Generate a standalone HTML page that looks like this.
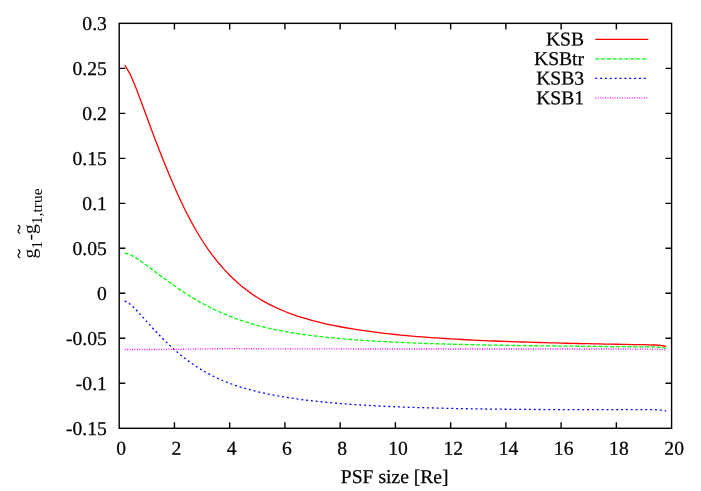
<!DOCTYPE html>
<html><head><meta charset="utf-8"><title>plot</title>
<style>html,body{margin:0;padding:0;background:#fff;}body{width:701px;height:491px;overflow:hidden;position:relative;font-family:"Liberation Serif",serif;}</style>
</head><body>
<svg width="701" height="491" viewBox="0 0 701 491" style="position:absolute;left:0;top:0;will-change:transform;opacity:0.999">
<rect x="0" y="0" width="701" height="491" fill="#fff"/>
<g fill="none" stroke-width="1.3" stroke-linejoin="round">
<path d="M124.72,64.96 L130.25,74.32 L135.77,87.38 L141.30,101.95 L146.82,116.97 L152.34,131.90 L157.87,146.47 L163.39,160.56 L168.92,174.09 L174.44,187.04 L179.96,199.30 L185.49,210.77 L191.01,221.41 L196.54,231.23 L202.06,240.26 L207.58,248.52 L213.11,256.09 L218.63,263.03 L224.16,269.39 L229.68,275.20 L235.20,280.52 L240.73,285.39 L246.25,289.83 L251.78,293.87 L257.30,297.55 L262.82,300.89 L268.35,303.92 L273.87,306.67 L279.40,309.19 L284.92,311.49 L290.44,313.60 L295.97,315.54 L301.49,317.33 L307.02,318.99 L312.54,320.53 L318.06,321.96 L323.59,323.28 L329.11,324.52 L334.64,325.67 L340.16,326.75 L345.68,327.76 L351.21,328.70 L356.73,329.59 L362.26,330.42 L367.78,331.21 L373.30,331.94 L378.83,332.64 L384.35,333.29 L389.88,333.91 L395.40,334.50 L400.92,335.05 L406.45,335.57 L411.97,336.06 L417.50,336.53 L423.02,336.97 L428.54,337.38 L434.07,337.78 L439.59,338.16 L445.12,338.51 L450.64,338.85 L456.16,339.17 L461.69,339.48 L467.21,339.77 L472.74,340.04 L478.26,340.30 L483.78,340.55 L489.31,340.79 L494.83,341.02 L500.36,341.24 L505.88,341.45 L511.40,341.64 L516.93,341.83 L522.45,342.02 L527.98,342.19 L533.50,342.36 L539.02,342.52 L544.55,342.67 L550.07,342.82 L555.60,342.96 L561.12,343.10 L566.64,343.23 L572.17,343.36 L577.69,343.48 L583.22,343.60 L588.74,343.72 L594.26,343.83 L599.79,343.94 L605.31,344.04 L610.84,344.14 L616.36,344.24 L621.88,344.34 L627.41,344.43 L632.93,344.53 L638.46,344.62 L643.98,344.70 L649.50,344.79 L655.03,345.00 L660.55,345.41 L666.08,346.50" stroke="#ff0000"/>
<path d="M124.72,252.99 L130.25,254.74 L135.77,257.81 L141.30,261.53 L146.82,265.55 L152.34,269.67 L157.87,273.81 L163.39,277.90 L168.92,281.91 L174.44,285.81 L179.96,289.60 L185.49,293.25 L191.01,296.74 L196.54,300.05 L202.06,303.19 L207.58,306.14 L213.11,308.91 L218.63,311.51 L224.16,313.95 L229.68,316.22 L235.20,318.33 L240.73,320.30 L246.25,322.12 L251.78,323.81 L257.30,325.37 L262.82,326.80 L268.35,328.12 L273.87,329.34 L279.40,330.46 L284.92,331.50 L290.44,332.46 L295.97,333.35 L301.49,334.18 L307.02,334.95 L312.54,335.66 L318.06,336.33 L323.59,336.95 L329.11,337.53 L334.64,338.07 L340.16,338.58 L345.68,339.05 L351.21,339.49 L356.73,339.91 L362.26,340.30 L367.78,340.66 L373.30,341.01 L378.83,341.33 L384.35,341.63 L389.88,341.92 L395.40,342.19 L400.92,342.44 L406.45,342.68 L411.97,342.90 L417.50,343.12 L423.02,343.32 L428.54,343.51 L434.07,343.69 L439.59,343.86 L445.12,344.02 L450.64,344.17 L456.16,344.31 L461.69,344.45 L467.21,344.58 L472.74,344.71 L478.26,344.82 L483.78,344.94 L489.31,345.04 L494.83,345.14 L500.36,345.24 L505.88,345.33 L511.40,345.42 L516.93,345.51 L522.45,345.59 L527.98,345.67 L533.50,345.74 L539.02,345.81 L544.55,345.88 L550.07,345.95 L555.60,346.02 L561.12,346.08 L566.64,346.14 L572.17,346.20 L577.69,346.25 L583.22,346.31 L588.74,346.36 L594.26,346.41 L599.79,346.46 L605.31,346.51 L610.84,346.56 L616.36,346.61 L621.88,346.65 L627.41,346.70 L632.93,346.74 L638.46,346.79 L643.98,346.83 L649.50,346.87 L655.03,347.00 L660.55,347.30 L666.08,348.40" stroke="#00ff00" stroke-dasharray="3.88 1.94"/>
<path d="M124.72,300.86 L130.25,304.20 L135.77,309.45 L141.30,315.44 L146.82,321.63 L152.34,327.74 L157.87,333.65 L163.39,339.30 L168.92,344.65 L174.44,349.70 L179.96,354.43 L185.49,358.84 L191.01,362.91 L196.54,366.67 L202.06,370.13 L207.58,373.29 L213.11,376.18 L218.63,378.80 L224.16,381.17 L229.68,383.33 L235.20,385.30 L240.73,387.10 L246.25,388.75 L251.78,390.26 L257.30,391.64 L262.82,392.92 L268.35,394.10 L273.87,395.19 L279.40,396.20 L284.92,397.13 L290.44,398.00 L295.97,398.80 L301.49,399.55 L307.02,400.25 L312.54,400.89 L318.06,401.50 L323.59,402.06 L329.11,402.58 L334.64,403.07 L340.16,403.53 L345.68,403.96 L351.21,404.36 L356.73,404.73 L362.26,405.08 L367.78,405.41 L373.30,405.71 L378.83,406.00 L384.35,406.27 L389.88,406.52 L395.40,406.75 L400.92,406.97 L406.45,407.18 L411.97,407.37 L417.50,407.55 L423.02,407.72 L428.54,407.88 L434.07,408.03 L439.59,408.17 L445.12,408.30 L450.64,408.42 L456.16,408.53 L461.69,408.63 L467.21,408.73 L472.74,408.82 L478.26,408.90 L483.78,408.98 L489.31,409.06 L494.83,409.12 L500.36,409.18 L505.88,409.24 L511.40,409.29 L516.93,409.34 L522.45,409.39 L527.98,409.43 L533.50,409.46 L539.02,409.50 L544.55,409.53 L550.07,409.55 L555.60,409.58 L561.12,409.60 L566.64,409.62 L572.17,409.63 L577.69,409.65 L583.22,409.66 L588.74,409.67 L594.26,409.68 L599.79,409.68 L605.31,409.69 L610.84,409.69 L616.36,409.69 L621.88,409.69 L627.41,409.69 L632.93,409.68 L638.46,409.68 L643.98,409.67 L649.50,409.67 L655.03,409.66 L660.55,410.20 L666.08,410.80" stroke="#0000ff" stroke-dasharray="1.94 2.91"/>
<path d="M124.72,349.50 L130.25,349.50 L135.77,349.50 L141.30,349.50 L146.82,349.50 L152.34,349.50 L157.87,349.50 L163.39,349.47 L168.92,349.43 L174.44,349.36 L179.96,349.28 L185.49,349.19 L191.01,349.09 L196.54,349.00 L202.06,348.91 L207.58,348.83 L213.11,348.76 L218.63,348.72 L224.16,348.70 L229.68,348.70 L235.20,348.71 L240.73,348.72 L246.25,348.73 L251.78,348.75 L257.30,348.77 L262.82,348.79 L268.35,348.81 L273.87,348.83 L279.40,348.85 L284.92,348.86 L290.44,348.88 L295.97,348.89 L301.49,348.90 L307.02,348.91 L312.54,348.92 L318.06,348.93 L323.59,348.93 L329.11,348.94 L334.64,348.95 L340.16,348.96 L345.68,348.96 L351.21,348.97 L356.73,348.98 L362.26,348.98 L367.78,348.99 L373.30,348.99 L378.83,348.99 L384.35,349.00 L389.88,349.00 L395.40,349.00 L400.92,349.00 L406.45,349.00 L411.97,349.00 L417.50,349.00 L423.02,349.00 L428.54,349.00 L434.07,349.00 L439.59,349.00 L445.12,349.00 L450.64,349.00 L456.16,349.00 L461.69,349.00 L467.21,349.00 L472.74,349.00 L478.26,349.00 L483.78,349.00 L489.31,349.00 L494.83,349.00 L500.36,349.00 L505.88,349.00 L511.40,349.00 L516.93,349.00 L522.45,349.00 L527.98,349.00 L533.50,349.00 L539.02,349.00 L544.55,349.00 L550.07,349.00 L555.60,349.00 L561.12,349.00 L566.64,349.00 L572.17,349.00 L577.69,349.00 L583.22,349.00 L588.74,349.00 L594.26,349.00 L599.79,349.00 L605.31,349.00 L610.84,349.00 L616.36,349.01 L621.88,349.01 L627.41,349.02 L632.93,349.03 L638.46,349.04 L643.98,349.06 L649.50,349.08 L655.03,349.10 L660.55,349.40 L666.08,350.10" stroke="#ff00ff" stroke-dasharray="0.97 1.46"/>
<path d="M595.3,39.35 L648.3,39.35" stroke="#ff0000"/>
<path d="M595.3,58.87 L648.3,58.87" stroke="#00ff00" stroke-dasharray="3.88 1.94"/>
<path d="M595.3,78.39 L648.3,78.39" stroke="#0000ff" stroke-dasharray="1.94 2.91"/>
<path d="M595.3,97.91 L648.3,97.91" stroke="#ff00ff" stroke-dasharray="0.97 1.46"/>
</g>
<g fill="none" stroke="#000" stroke-width="1.4">
<rect x="119.2" y="23.35" width="552.40" height="404.95"/>
<path d="M174.44,428.3 v-6.1 M174.44,23.35 v6.1 M229.68,428.3 v-6.1 M229.68,23.35 v6.1 M284.92,428.3 v-6.1 M284.92,23.35 v6.1 M340.16,428.3 v-6.1 M340.16,23.35 v6.1 M395.40,428.3 v-6.1 M395.40,23.35 v6.1 M450.64,428.3 v-6.1 M450.64,23.35 v6.1 M505.88,428.3 v-6.1 M505.88,23.35 v6.1 M561.12,428.3 v-6.1 M561.12,23.35 v6.1 M616.36,428.3 v-6.1 M616.36,23.35 v6.1 M119.2,68.34 h6.1 M671.6,68.34 h-6.1 M119.2,113.34 h6.1 M671.6,113.34 h-6.1 M119.2,158.33 h6.1 M671.6,158.33 h-6.1 M119.2,203.33 h6.1 M671.6,203.33 h-6.1 M119.2,248.32 h6.1 M671.6,248.32 h-6.1 M119.2,293.32 h6.1 M671.6,293.32 h-6.1 M119.2,338.31 h6.1 M671.6,338.31 h-6.1 M119.2,383.31 h6.1 M671.6,383.31 h-6.1"/>
</g>
<g font-family="Liberation Serif, serif" font-size="19.6px" fill="#000" stroke="#000" stroke-width="0.25" stroke-linejoin="round">
<text x="106.85" y="30.05" text-anchor="end" transform="rotate(0.05 94.8 30.05)">0.3</text>
<text x="106.85" y="75.04" text-anchor="end" transform="rotate(0.05 90.8 75.04)">0.25</text>
<text x="106.85" y="120.04" text-anchor="end" transform="rotate(0.05 94.8 120.04)">0.2</text>
<text x="106.85" y="165.03" text-anchor="end" transform="rotate(0.05 90.8 165.03)">0.15</text>
<text x="106.85" y="210.03" text-anchor="end" transform="rotate(0.05 94.8 210.03)">0.1</text>
<text x="106.85" y="255.02" text-anchor="end" transform="rotate(0.05 90.8 255.02)">0.05</text>
<text x="106.85" y="300.02" text-anchor="end" transform="rotate(0.05 102.8 300.02)">0</text>
<text x="106.85" y="345.01" text-anchor="end" transform="rotate(0.05 86.8 345.01)">-0.05</text>
<text x="106.85" y="390.01" text-anchor="end" transform="rotate(0.05 90.8 390.01)">-0.1</text>
<text x="106.85" y="435.00" text-anchor="end" transform="rotate(0.05 86.8 435.00)">-0.15</text>
<text x="121.10" y="454.65" text-anchor="middle" transform="rotate(0.05 121.1 454.65)">0</text>
<text x="176.34" y="454.65" text-anchor="middle" transform="rotate(0.05 176.3 454.65)">2</text>
<text x="231.58" y="454.65" text-anchor="middle" transform="rotate(0.05 231.6 454.65)">4</text>
<text x="286.82" y="454.65" text-anchor="middle" transform="rotate(0.05 286.8 454.65)">6</text>
<text x="342.06" y="454.65" text-anchor="middle" transform="rotate(0.05 342.1 454.65)">8</text>
<text x="397.95" y="454.65" text-anchor="middle" transform="rotate(0.05 397.9 454.65)">10</text>
<text x="453.19" y="454.65" text-anchor="middle" transform="rotate(0.05 453.2 454.65)">12</text>
<text x="508.43" y="454.65" text-anchor="middle" transform="rotate(0.05 508.4 454.65)">14</text>
<text x="563.67" y="454.65" text-anchor="middle" transform="rotate(0.05 563.7 454.65)">16</text>
<text x="618.91" y="454.65" text-anchor="middle" transform="rotate(0.05 618.9 454.65)">18</text>
<text x="674.15" y="454.65" text-anchor="middle" transform="rotate(0.05 674.1 454.65)">20</text>
<text x="394.70" y="483.10" text-anchor="middle" transform="rotate(0.05 394.7 483.10)">PSF size [Re]</text>
<text x="584.10" y="45.60" text-anchor="end" transform="rotate(0.05 567.6 45.60)">KSB</text>
<text x="584.10" y="65.12" text-anchor="end" transform="rotate(0.05 556.6 65.12)">KSBtr</text>
<text x="584.10" y="84.64" text-anchor="end" transform="rotate(0.05 562.1 84.64)">KSB3</text>
<text x="584.10" y="104.16" text-anchor="end" transform="rotate(0.05 562.1 104.16)">KSB1</text>
<g transform="translate(36.0,258.6) rotate(-90)">
<text x="0" y="0" stroke="none">g<tspan font-size="15.5px" dy="5.5">1</tspan><tspan dy="-5.5" dx="0.6">-g</tspan><tspan font-size="15.5px" dy="5.5">1,true</tspan></text>
<path d="M0.9,-16.3 c1,-2.0 2.6,-2.0 4,-0.7 c1.4,1.3 3,1.3 4,-0.7" fill="none" stroke="#000" stroke-width="1.2" stroke-linecap="round"/>
<path d="M25.3,-16.3 c1,-2.0 2.6,-2.0 4,-0.7 c1.4,1.3 3,1.3 4,-0.7" fill="none" stroke="#000" stroke-width="1.2" stroke-linecap="round"/>
</g>
</g>
</svg>
</body></html>
